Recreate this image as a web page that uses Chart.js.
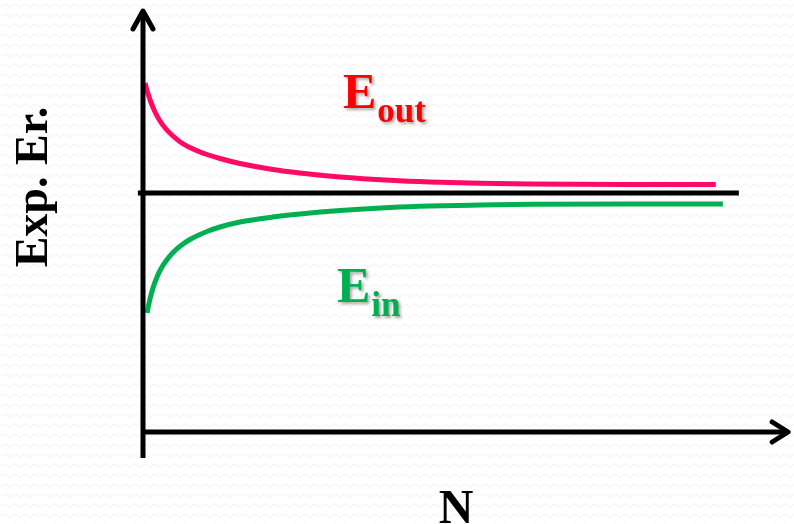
<!DOCTYPE html>
<html><head><meta charset="utf-8">
<script src="https://cdn.jsdelivr.net/npm/chart.js@4/dist/chart.umd.min.js"></script>
<style>html,body{margin:0;padding:0;background:#fff;}#wrap{width:794px;height:524px;}</style>
</head><body><div id="wrap"><canvas id="c" width="794" height="524"></canvas></div>
<script>
// N positions and expected error values
const eoutN    = [0.31, 0.78, 1.25, 1.88, 2.66, 3.59, 4.69, 5.94, 7.34, 8.91, 10, 12.03, 15.16, 20.3, 24.5, 30.8, 38.6, 44.8, 52.7, 60.5, 75.3, 89.5];
const eoutVals = [3.49, 3.385, 3.295, 3.20, 3.11, 3.03, 2.96, 2.895, 2.845, 2.80, 2.775, 2.735, 2.685, 2.625, 2.59, 2.55, 2.517, 2.50, 2.487, 2.48, 2.475, 2.474];
const einN     = [0.63, 1.09, 1.56, 2.03, 2.66, 3.59, 4.69, 5.94, 7.34, 8.91, 10, 12.03, 15.16, 20.3, 24.5, 30.8, 38.6, 44.8, 52.7, 60.5, 75.3, 90.6];
const einVals  = [1.19, 1.33, 1.44, 1.525, 1.615, 1.71, 1.795, 1.865, 1.925, 1.975, 2.005, 2.05, 2.10, 2.15, 2.18, 2.215, 2.245, 2.26, 2.27, 2.277, 2.28, 2.28];
const midN     = [-0.8, 93.1];
const midVals  = [2.39, 2.39];
const labels = { eout: ["E", "out"], ein: ["E", "in"], yTitle: "Exp. Er.", xTitle: "N" };
const labelPos = { eout: [31.25, 3.24], ein: [30.3, 1.30] };
const axisEnds = { xMax: 100.8, yMin: -0.26, yMax: 4.21 };

const toXY = (xs, ys) => xs.map((x, i) => ({ x: x, y: ys[i] }));

const bgPlugin = {
  id: 'bg',
  beforeDraw(chart) {
    const ctx = chart.ctx;
    ctx.save();
    ctx.fillStyle = '#ffffff';
    ctx.fillRect(0, 0, chart.width, chart.height);
    ctx.strokeStyle = '#f5f5f5';
    ctx.lineWidth = 1.3;
    for (let y0 = 4; y0 < chart.height + 10; y0 += 10) {
      ctx.beginPath();
      for (let x = 0, k = 0; x <= chart.width + 10; x += 5, k++) {
        const yy = y0 + (k % 2 === 0 ? 3 : 0);
        if (k === 0) ctx.moveTo(x, yy); else ctx.lineTo(x, yy);
      }
      ctx.stroke();
    }
    ctx.restore();
  }
};

const decoPlugin = {
  id: 'deco',
  afterDatasetsDraw(chart) {
    const ctx = chart.ctx;
    const xs = chart.scales.x, ys = chart.scales.y;
    const x0 = xs.getPixelForValue(0), y0 = ys.getPixelForValue(0);
    const yTop = ys.getPixelForValue(axisEnds.yMax), yBot = ys.getPixelForValue(axisEnds.yMin);
    const xEnd = xs.getPixelForValue(axisEnds.xMax);
    ctx.save();
    ctx.strokeStyle = '#000';
    ctx.lineWidth = 5;
    ctx.lineCap = 'butt';
    ctx.beginPath(); ctx.moveTo(x0, yBot); ctx.lineTo(x0, yTop + 2); ctx.stroke();
    ctx.beginPath(); ctx.moveTo(x0 + 2, y0); ctx.lineTo(xEnd - 2, y0); ctx.stroke();
    ctx.lineCap = 'round'; ctx.lineJoin = 'round';
    ctx.beginPath(); ctx.moveTo(x0 - 10, yTop + 18); ctx.lineTo(x0, yTop); ctx.lineTo(x0 + 10, yTop + 18); ctx.stroke();
    ctx.beginPath(); ctx.moveTo(xEnd - 16, y0 - 10); ctx.lineTo(xEnd, y0); ctx.lineTo(xEnd - 16, y0 + 10); ctx.stroke();

    const drawLabel = (parts, pos, color) => {
      const px = xs.getPixelForValue(pos[0]), py = ys.getPixelForValue(pos[1]);
      ctx.fillStyle = color;
      ctx.shadowColor = 'rgba(0,0,0,0.35)';
      ctx.shadowOffsetX = 2; ctx.shadowOffsetY = 2; ctx.shadowBlur = 3;
      ctx.textAlign = 'left'; ctx.textBaseline = 'alphabetic';
      ctx.font = "bold 50px 'Liberation Serif'";
      ctx.fillText(parts[0], px, py);
      const w = ctx.measureText(parts[0]).width;
      ctx.font = "bold 35px 'Liberation Serif'";
      ctx.fillText(parts[1], px + w + 1, py + 14);
      ctx.shadowColor = 'transparent';
    };
    drawLabel(labels.eout, labelPos.eout, '#ff0000');
    drawLabel(labels.ein, labelPos.ein, '#00b050');

    ctx.fillStyle = '#000';
    ctx.font = "bold 46px 'Liberation Serif'";
    ctx.textAlign = 'center'; ctx.textBaseline = 'alphabetic';
    ctx.save();
    ctx.translate(47, 187);
    ctx.rotate(-Math.PI / 2);
    ctx.fillText(labels.yTitle, 0, 0);
    ctx.restore();
    ctx.font = "bold 48px 'Liberation Serif'";
    ctx.fillText(labels.xTitle, 456, 523);
    ctx.restore();
  }
};

new Chart(document.getElementById('c'), {
  type: 'line',
  data: {
    datasets: [
      { label: 'mid', data: toXY(midN, midVals), borderColor: '#000000', borderWidth: 5, pointRadius: 0, clip: false, borderCapStyle: 'butt' },
      { label: 'Eout', data: toXY(eoutN, eoutVals), borderColor: '#ff0a64', borderWidth: 5, pointRadius: 0, cubicInterpolationMode: 'monotone', clip: false },
      { label: 'Ein', data: toXY(einN, einVals), borderColor: '#00b050', borderWidth: 5, pointRadius: 0, cubicInterpolationMode: 'monotone', clip: false }
    ]
  },
  options: {
    responsive: false,
    animation: false,
    devicePixelRatio: 1,
    layout: { padding: { left: 135, right: 9, top: 12, bottom: 66 } },
    scales: {
      x: { type: 'linear', min: -1.25, max: 100.31, display: false },
      y: { type: 'linear', min: -0.26, max: 4.2, display: false }
    },
    plugins: { legend: { display: false }, tooltip: { enabled: false } }
  },
  plugins: [bgPlugin, decoPlugin]
});
</script>
</body></html>
